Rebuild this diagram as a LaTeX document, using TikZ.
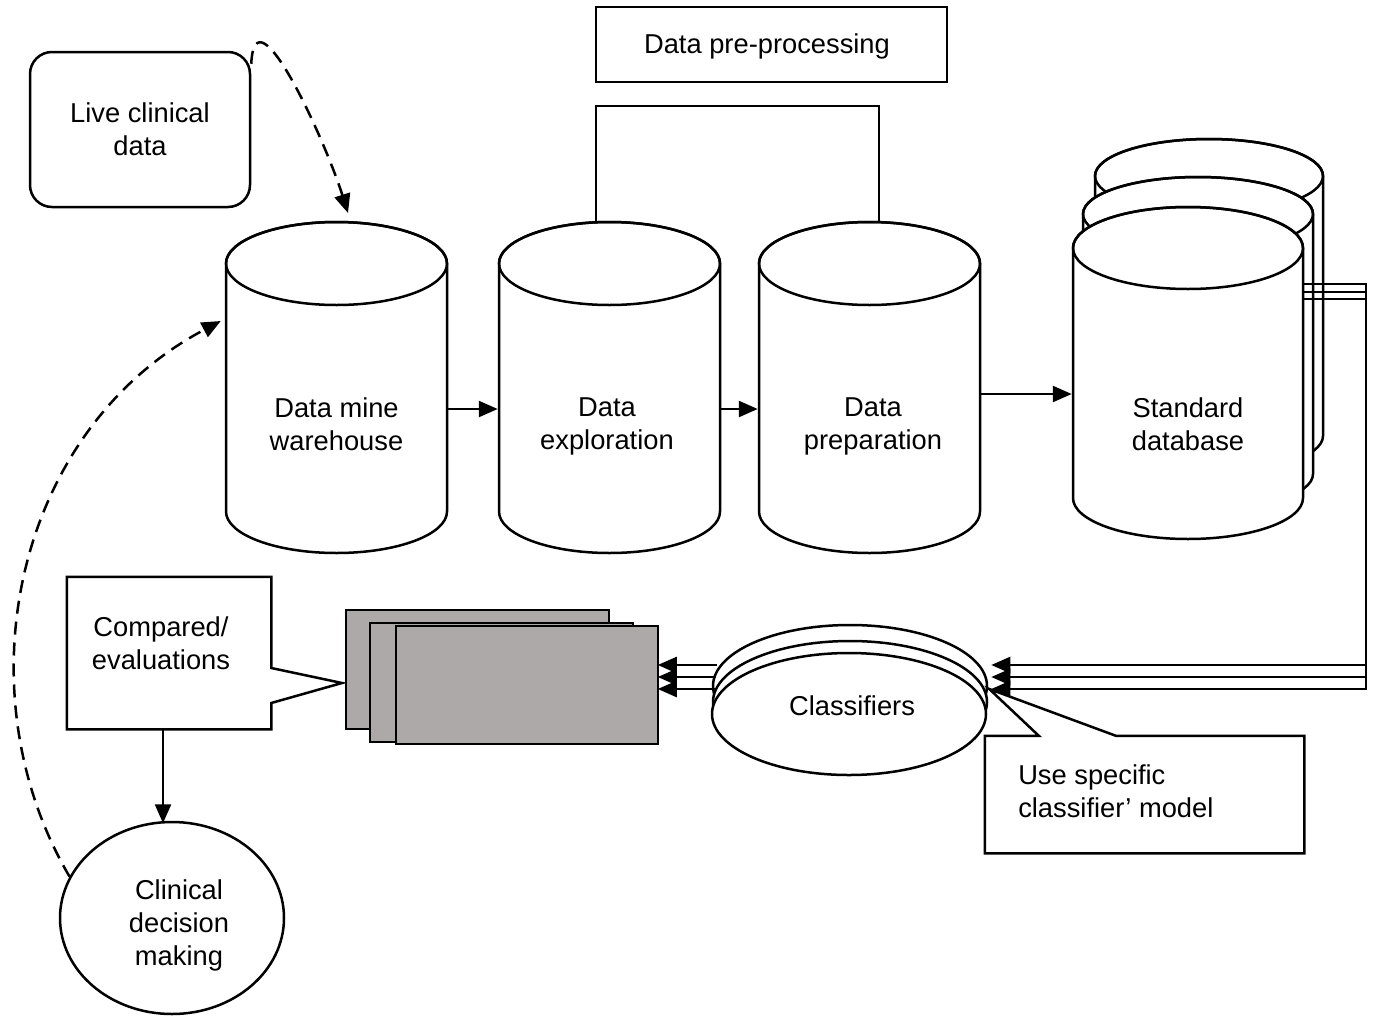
\documentclass[tikz,border=0pt]{standalone}
\usepackage{fontspec}
\setmainfont{Liberation Sans}
\usetikzlibrary{shapes.geometric,arrows.meta}
\definecolor{gfill}{RGB}{172,169,168}
\newcommand\cylbody[5]{%
  \draw[fill=white] ({#1-#4},#2) -- ({#1-#4},#3) arc[start angle=180,end angle=360,x radius=#4pt,y radius=#5pt] -- ({#1+#4},#2) arc[start angle=0,end angle=180,x radius=#4pt,y radius=#5pt] -- cycle;
  \draw (#1,#2) ellipse[x radius=#4pt,y radius=#5pt];}
\begin{document}
\begin{tikzpicture}[x=1pt,y=-1pt,line width=2.5pt,
  txt/.style={font=\fontsize{27.3}{33}\selectfont, align=center, inner sep=0pt},
  arr/.style={-{Triangle[length=19pt,width=16pt]}},
  dsh/.style={dash pattern=on 13pt off 8pt},
  gbox/.style={draw, fill=gfill, minimum width=263pt, minimum height=119pt, inner sep=0pt},
  cyl/.style={txt, minimum width=221pt, minimum height=248pt},
  clsell/.style={draw, ellipse, fill=white, minimum width=274pt, minimum height=122pt, inner sep=0pt}]
\useasboundingbox (0,0) rectangle (1376,1015);
\fill[white] (0,0) rectangle (1376,1015);

% cylinders
\cylbody{336.5}{263.5}{511.5}{110.5}{41.5}
\cylbody{609.5}{263.5}{511.5}{110.5}{41.5}
\cylbody{869.5}{263.5}{511.5}{110.5}{41.5}
\cylbody{1209}{176}{436}{114}{37}
\cylbody{1198}{214}{474}{115}{37}
\cylbody{1188}{248}{498}{115}{41}

\node[cyl] (dmw) at (336.5,424) {Data mine\\warehouse};
\node[cyl] (dex) at (609.5,424) {};
\node[cyl] (dprep) at (869.5,424) {};
\node[txt] (dext) at (607,426) {Data\\exploration};
\node[txt] (dprept) at (873,426) {Data\\preparation};
\node[cyl, minimum width=230pt] (std) at (1188,424) {Standard\\database};

\draw[arr] ([yshift=15pt]dmw.east) -- ([yshift=15pt]dex.west);
\draw[arr] ([yshift=15pt]dex.east) -- ([yshift=15pt]dprep.west);
\draw[arr] ([yshift=30pt]dprep.east) -- ([yshift=30pt]std.west);

% pre-processing
\node[draw, txt, minimum width=351pt, minimum height=75pt] (pre) at (771.5,44.5) {};
\node[txt] (pret) at (767,46.5) {Data pre-processing};
\draw ([xshift=-13.5pt,yshift=78pt]dex.north) -- ++(0,-115) -| ([xshift=9.5pt,yshift=78pt]dprep.north);

% live clinical data
\node[draw, rounded corners=22pt, txt, minimum width=220pt, minimum height=155pt] (live) at (140,129.5) {Live clinical\\data};
\coordinate (dmwtop) at (348,213);
\draw[dsh,arr] ([yshift=-13pt]live.north east) .. controls (255,-14) and (325,140) .. (dmwtop);

% clinical decision making
\node[draw, ellipse, minimum width=224pt, minimum height=192pt] (clin) at (172,918) {};
\node[txt] (clint) at (179,925) {Clinical\\decision\\making};
\draw[dsh,arr] (clin.158) .. controls (-40,690) and (15,430) .. ([xshift=-4pt,yshift=103pt]dmw.west);

% compared callout
\node[minimum width=202pt, minimum height=150pt, inner sep=0pt] (compbox) at (169,653) {};
\draw[fill=white] (compbox.north west) -- (compbox.north east) -- ([yshift=-15pt]compbox.east) -- (342,683) -- ([yshift=-50pt]compbox.east) -- (compbox.south east) -- (compbox.south west) -- cycle;
\node[txt] (comp) at (161,643) {Compared/\\evaluations};
\draw[arr] ([xshift=-6pt]compbox.south) -- ++(0,94);

% grey stacked boxes
\node[gbox] (g3) at (477.5,669.5) {};
\node[gbox] (g2) at (501.5,682.5) {};
\node[gbox, minimum width=262pt, minimum height=118pt] (g1) at (527,685) {};

% classifiers
\node[clsell] (cls3) at (850,686) {};
\node[clsell] (cls2) at (850,702) {};
\node[clsell] (cls) at (849,714) {};
\node[txt] (clst) at (852,706) {Classifiers};

% use specific callout
\node[minimum width=317pt, minimum height=115pt, inner sep=0pt] (usebox) at (1144.5,794.5) {};
\draw[fill=white] (usebox.north west) -- ([xshift=54pt]usebox.north west) -- ([xshift=1pt,yshift=-3pt]cls3.east) -- ([xshift=131pt]usebox.north west) -- (usebox.north east) -- (usebox.south east) -- (usebox.south west) -- cycle;
\node[txt, align=left, anchor=west] (uset) at (1017,791) {Use specific\\classifier’ model};

% arrows classifiers -> grey boxes
\draw[arr] ([xshift=5pt,yshift=21pt]cls3.west) -- ++(-59,0);
\draw[arr] ([xshift=4pt,yshift=9pt]cls3.west) -- ++(-58,0);
\draw[arr] ([xshift=3pt,yshift=-3pt]cls3.west) -- ++(-57,0);

% standard database -> classifiers
\draw[arr] ([yshift=140pt]std.east) -- (1366,284) -- (1366,665) -- ([xshift=3pt,yshift=21pt]cls3.east);
\draw[arr] ([yshift=132pt]std.east) -- (1366,292) -- (1366,677) -- ([xshift=3pt,yshift=9pt]cls3.east);
\draw[arr] ([yshift=125pt]std.east) -- (1366,299) -- (1366,689) -- ([xshift=3pt,yshift=-3pt]cls3.east);
\end{tikzpicture}
\end{document}
